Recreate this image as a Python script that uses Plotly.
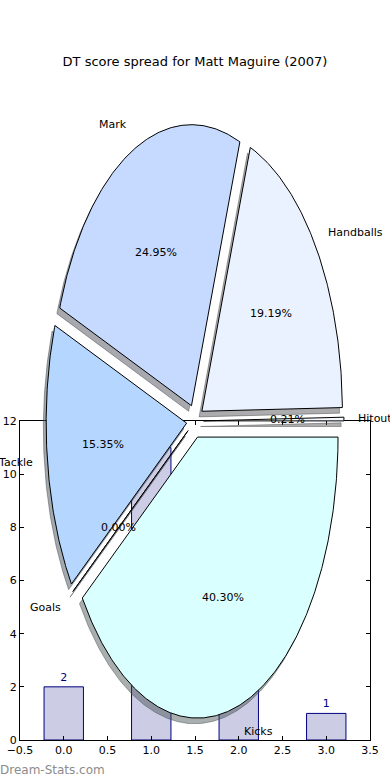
import numpy as np
import plotly.graph_objects as go

# ---------------- data ----------------
title_text = "DT score spread for Matt Maguire (2007)"

pie_labels = ["Hitout", "Handballs", "Mark", "Tackle", "Goals", "Kicks"]
pie_values = [0.21, 19.19, 24.95, 15.35, 0.00, 40.30]
pie_colors = ["#f4f8ff", "#eaf2ff", "#c6d9ff", "#b4d6ff", "#cfe4ff", "#d9ffff"]
pie_explode = [0.06, 0.06, 0.06, 0.06, 0.06, 0.06]

bar_x = [0, 1, 2, 3]
bar_values = [2, 11, 7, 1]

xtick_vals = [-0.5, 0.0, 0.5, 1.0, 1.5, 2.0, 2.5, 3.0, 3.5]
xtick_text = ["\u22120.5", "0.0", "0.5", "1.0", "1.5", "2.0", "2.5", "3.0", "3.5"]
ytick_vals = [0, 2, 4, 6, 8, 10, 12]
ytick_text = ["0", "2", "4", "6", "8", "10", "12"]

watermark = "Dream-Stats.com"

FONT = "DejaVu Sans"
W, H = 390, 780

fig = go.Figure()

# ---------------- bar chart (lower axes) ----------------
fig.add_trace(go.Bar(
    x=bar_x, y=bar_values, width=0.45,
    marker=dict(color="#ccccE5", line=dict(color="#000080", width=1)),
    text=[str(v) for v in bar_values], textposition="outside",
    textfont=dict(family=FONT, size=11, color="#000080"),
    cliponaxis=False,
    xaxis="x", yaxis="y", showlegend=False, hoverinfo="skip",
))

# ---------------- pie (drawn as wedges on its own axes) ----------------
total = float(sum(pie_values))
theta = 0.0
wedges = []
for lab, val, col, ex in zip(pie_labels, pie_values, pie_colors, pie_explode):
    t1 = theta
    t2 = theta + 360.0 * val / total
    theta = t2
    mid = np.deg2rad((t1 + t2) / 2.0)
    cx, cy = ex * np.cos(mid), ex * np.sin(mid)
    n = max(2, int(abs(t2 - t1) * 2) + 2)
    t = np.deg2rad(np.linspace(t1, t2, n))
    xs = np.concatenate([[cx], cx + np.cos(t), [cx]])
    ys = np.concatenate([[cy], cy + np.sin(t), [cy]])
    wedges.append((lab, val, col, cx, cy, mid, xs, ys))

# shadows (below all wedges)
for lab, val, col, cx, cy, mid, xs, ys in wedges:
    r, g, b = [int(col[i:i + 2], 16) for i in (1, 3, 5)]
    sc = "rgba(%d,%d,%d,0.45)" % (int(0.3 * r), int(0.3 * g), int(0.3 * b))
    fig.add_trace(go.Scatter(
        x=xs - 0.02, y=ys - 0.02, mode="lines", fill="toself",
        fillcolor=sc, line=dict(color=sc, width=1),
        xaxis="x2", yaxis="y2", showlegend=False, hoverinfo="skip",
    ))

for lab, val, col, cx, cy, mid, xs, ys in wedges:
    fig.add_trace(go.Scatter(
        x=xs, y=ys, mode="lines", fill="toself",
        fillcolor=col, line=dict(color="black", width=1),
        xaxis="x2", yaxis="y2", showlegend=False, hoverinfo="skip",
    ))

annotations = []
for lab, val, col, cx, cy, mid, xs, ys in wedges:
    xt = cx + 1.1 * np.cos(mid)
    yt = cy + 1.1 * np.sin(mid)
    annotations.append(dict(
        x=xt, y=yt, xref="x2", yref="y2", text=lab, showarrow=False,
        xanchor="left" if xt > 0 else "right", yanchor="middle",
        borderpad=0, borderwidth=0,
        font=dict(family=FONT, size=11, color="black"),
    ))
    xp = cx + 0.6 * np.cos(mid)
    yp = cy + 0.6 * np.sin(mid)
    annotations.append(dict(
        x=xp, y=yp, xref="x2", yref="y2", text="%.2f%%" % val, showarrow=False,
        xanchor="center", yanchor="middle", borderpad=0, borderwidth=0,
        font=dict(family=FONT, size=11, color="black"),
    ))

annotations.append(dict(
    x=0, y=1 - 770 / H, xref="paper", yref="paper", text=watermark,
    showarrow=False, xanchor="left", yanchor="middle", borderpad=0, borderwidth=0,
    font=dict(family=FONT, size=12, color="#8c8c8c"),
))

# pixel geometry of pie axes: x = 195 + 140.5*u, y = 421 - 281*v
px_cx, px_cy, px_rx, px_ry = 195.0, 421.0, 140.5, 281.0
x2_range = [(0 - px_cx) / px_rx, (W - px_cx) / px_rx]
y2_range = [(px_cy - H) / px_ry, (px_cy - 0) / px_ry]

axis_common = dict(
    showline=True, linecolor="black", linewidth=1, mirror="allticks",
    ticks="inside", ticklen=4, tickcolor="black", showgrid=False,
    zeroline=False, tickfont=dict(family=FONT, size=11, color="black"),
    fixedrange=True, automargin=False,
)

fig.update_layout(
    width=W, height=H,
    margin=dict(l=0, r=0, t=0, b=0, pad=0, autoexpand=False),
    paper_bgcolor="white", plot_bgcolor="rgba(0,0,0,0)",
    title=dict(text=title_text, x=195 / W, y=1 - 61 / H, xanchor="center",
               yanchor="middle", automargin=False,
               font=dict(family=FONT, size=13, color="black")),
    xaxis=dict(domain=[20 / W, 370 / W], range=[-0.5, 3.5], anchor="y",
               tickvals=xtick_vals, ticktext=xtick_text, **axis_common),
    yaxis=dict(domain=[1 - 740 / H, 1 - 421 / H], range=[0, 12], anchor="x",
               tickvals=ytick_vals, ticktext=ytick_text, **axis_common),
    xaxis2=dict(domain=[0, 1], range=x2_range, anchor="y2", visible=False,
                fixedrange=True, automargin=False),
    yaxis2=dict(domain=[0, 1], range=y2_range, anchor="x2", visible=False,
                fixedrange=True, automargin=False),
    annotations=annotations,
    bargap=0,
)

fig.write_html(
    "out.html",
    config={"displayModeBar": False, "staticPlot": True},
    post_script="document.body.style.margin='0';document.body.style.padding='0';",
)
